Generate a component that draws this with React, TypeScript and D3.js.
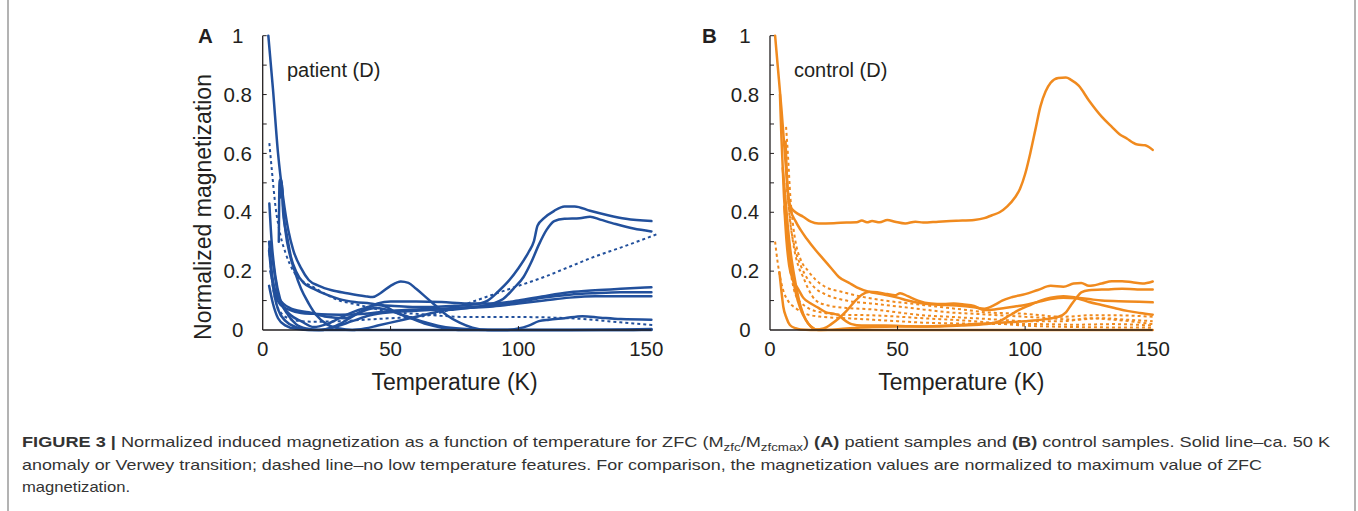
import React from 'react';
import * as d3 from 'd3';

type Pt = [number, number];

// ---------- Panel A: patient (D) ----------
const patientA1: Pt[] = [[2.2,1.0],[4,0.82],[6,0.6],[8,0.45],[10,0.34],[12,0.27],[15,0.21],[18,0.17],[22,0.15],[27,0.135],[33,0.125],[40,0.115],[43,0.112],[46,0.125],[50,0.15],[54,0.165],[57,0.16],[60,0.14],[64,0.11],[68,0.08],[72,0.05],[77,0.025],[82,0.008],[88,0.0],[100,0.0],[120,0.0],[140,0.0],[152,0.002]];
const patientA2: Pt[] = [[6.3,0.3],[6.6,0.51],[7.3,0.51],[8,0.4],[9.5,0.32],[11,0.25],[13,0.2],[16,0.16],[20,0.14],[25,0.12],[30,0.105],[36,0.095],[42,0.09],[46,0.085],[50,0.082],[55,0.08],[60,0.078],[65,0.078],[70,0.08],[75,0.082],[80,0.085],[85,0.09],[88,0.1],[92,0.13],[96,0.165],[100,0.21],[104,0.265],[106,0.3],[107.5,0.355],[110,0.38],[114,0.405],[118,0.42],[122,0.42],[128,0.405],[135,0.39],[142,0.378],[152,0.37]];
const patientA3: Pt[] = [[6.8,0.45],[7.5,0.5],[8,0.42],[9,0.33],[10.5,0.26],[12.5,0.2],[15,0.14],[18,0.09],[21,0.05],[25,0.02],[30,0.005],[35,0.0],[40,0.005],[45,0.015],[50,0.025],[55,0.035],[60,0.045],[65,0.055],[70,0.065],[75,0.07],[80,0.075],[85,0.08],[90,0.09],[94,0.105],[98,0.14],[102,0.18],[105,0.23],[108,0.29],[111,0.34],[114,0.37],[118,0.378],[124,0.38],[128,0.385],[132,0.375],[138,0.36],[145,0.345],[152,0.335]];
const patientA4: Pt[] = [[2.6,0.43],[3.5,0.3],[5,0.18],[7,0.1],[10,0.05],[13,0.02],[17,0.005],[22,0.0],[26,0.005],[30,0.02],[35,0.045],[40,0.07],[45,0.09],[50,0.097],[60,0.097],[70,0.095],[80,0.09],[90,0.09],[100,0.1],[110,0.115],[120,0.128],[130,0.135],[140,0.14],[152,0.145]];
const patientA5: Pt[] = [[2.5,0.3],[3.5,0.2],[5,0.12],[7,0.085],[10,0.07],[15,0.058],[20,0.055],[30,0.052],[40,0.055],[50,0.065],[60,0.07],[70,0.072],[80,0.077],[90,0.085],[100,0.095],[110,0.11],[120,0.12],[130,0.125],[140,0.128],[152,0.128]];
const patientA6: Pt[] = [[2.5,0.27],[4,0.15],[6,0.07],[9,0.03],[13,0.01],[18,0.0],[23,0.0],[28,0.01],[35,0.03],[42,0.05],[50,0.06],[60,0.065],[70,0.07],[80,0.075],[90,0.08],[100,0.09],[110,0.1],[120,0.11],[130,0.115],[140,0.115],[152,0.115]];
const patientA7: Pt[] = [[2.5,0.15],[4,0.09],[6,0.04],[9,0.015],[13,0.004],[20,0.0],[40,0.0],[60,0.0],[80,0.0],[95,0.0],[100,0.005],[104,0.015],[108,0.03],[112,0.035],[118,0.04],[125,0.047],[132,0.042],[140,0.037],[152,0.035]];
const patientA8: Pt[] = [[3,0.2],[5,0.13],[8,0.09],[12,0.07],[18,0.06],[25,0.045],[32,0.04],[38,0.06],[44,0.075],[48,0.07],[55,0.05],[62,0.03],[70,0.012],[78,0.004],[90,0.0],[110,0.0],[130,0.0],[152,0.0]];
const patientA9: Pt[] = [[3,0.3],[4.5,0.2],[6,0.12],[8,0.08],[11,0.05],[15,0.03],[20,0.01],[25,0.02],[30,0.04],[35,0.06],[40,0.075],[45,0.085],[48,0.08],[52,0.06],[58,0.04],[64,0.02],[70,0.008],[78,0.0],[120,0.0],[152,0.003]];
const patientD1: Pt[] = [[2.6,0.635],[3.5,0.55],[5,0.42],[7,0.32],[9,0.26],[12,0.2],[15,0.17],[20,0.145],[25,0.12],[30,0.1],[35,0.09],[40,0.08],[46,0.068],[52,0.06],[60,0.055],[70,0.048],[80,0.044],[100,0.044],[120,0.04],[135,0.03],[145,0.022],[153,0.017]];
const patientD2: Pt[] = [[2.5,0.28],[3.5,0.18],[5,0.1],[7,0.06],[10,0.04],[15,0.03],[20,0.028],[30,0.03],[40,0.035],[50,0.04],[60,0.045],[65,0.05],[70,0.06],[75,0.075],[80,0.09],[90,0.12],[100,0.15],[110,0.18],[120,0.215],[130,0.25],[140,0.28],[154,0.325]];

const patientSolid: Pt[][] = [patientA1, patientA2, patientA3, patientA4, patientA5, patientA6, patientA7, patientA8, patientA9];
const patientDotted: Pt[][] = [patientD1, patientD2];

// ---------- Panel B: control (D) ----------
const controlB1: Pt[] = [[2,1.0],[3,0.9],[4.5,0.75],[6,0.58],[7,0.47],[8,0.42],[10,0.4],[13,0.385],[16,0.368],[19,0.362],[25,0.363],[30,0.365],[34,0.366],[36,0.372],[38,0.366],[40,0.37],[43,0.366],[46,0.374],[49,0.368],[53,0.362],[57,0.368],[60,0.365],[66,0.368],[73,0.371],[80,0.374],[84,0.38],[87,0.39],[90,0.4],[93,0.42],[96,0.45],[98,0.48],[100,0.53],[102,0.6],[104,0.68],[106,0.76],[108,0.81],[110,0.84],[113,0.856],[116,0.858],[118,0.85],[121,0.83],[125,0.78],[130,0.725],[134,0.69],[137,0.665],[140,0.65],[142,0.638],[144,0.63],[147,0.628],[150,0.612]];
const controlB2: Pt[] = [[6.1,0.64],[6.5,0.55],[7,0.47],[8,0.41],[10,0.37],[12,0.34],[14.4,0.31],[18,0.27],[21,0.24],[24,0.21],[27,0.18],[31,0.16],[34,0.145],[40,0.127],[45,0.12],[50,0.11],[54,0.1],[60,0.09],[66,0.086],[73,0.083],[80,0.077],[84,0.072],[88,0.085],[91,0.1],[95,0.112],[100,0.122],[105,0.136],[110,0.15],[115,0.147],[119,0.158],[122,0.16],[125,0.15],[130,0.158],[134,0.166],[138,0.166],[142,0.162],[146,0.158],[150,0.165]];
const controlB3: Pt[] = [[3.9,0.8],[4.5,0.65],[5.5,0.45],[7,0.3],[8.5,0.2],[10,0.13],[12,0.07],[14,0.035],[16,0.012],[18,0.002],[21,0.005],[24,0.02],[27,0.04],[30,0.065],[33,0.095],[36,0.12],[39,0.13],[42,0.128],[46,0.122],[49,0.118],[51,0.125],[54,0.115],[58,0.1],[63,0.09],[68,0.088],[72,0.09],[76,0.087],[80,0.082],[84,0.068],[88,0.07],[92,0.075],[96,0.08],[100,0.085],[105,0.095],[110,0.105],[115,0.11],[120,0.108],[125,0.095],[130,0.085],[135,0.075],[140,0.065],[145,0.058],[150,0.052]];
const controlB4: Pt[] = [[5.6,0.42],[6.5,0.3],[7.5,0.22],[9,0.17],[11,0.14],[13,0.11],[16,0.09],[19,0.075],[22,0.06],[25,0.055],[27,0.05],[29,0.035],[32,0.02],[36,0.015],[45,0.015],[55,0.013],[65,0.012],[75,0.015],[85,0.02],[90,0.03],[94,0.05],[98,0.07],[102,0.085],[106,0.1],[110,0.11],[115,0.115],[120,0.11],[125,0.105],[130,0.1],[140,0.097],[150,0.094]];
const controlB5: Pt[] = [[3.7,0.196],[4.5,0.13],[5.2,0.08],[6.5,0.04],[7.8,0.017],[10,0.006],[12,0.002],[20,0.0],[30,0.005],[40,0.01],[50,0.012],[60,0.012],[70,0.015],[80,0.02],[90,0.025],[100,0.03],[108,0.037],[113,0.045],[116,0.06],[118,0.085],[120,0.108],[122,0.128],[125,0.135],[132,0.138],[138,0.14],[144,0.138],[150,0.138]];
const controlB6: Pt[] = [[5,0.55],[6,0.45],[7,0.35],[8,0.27],[10,0.16],[12,0.08],[14,0.035],[16,0.012],[19,0.0],[30,0.0],[50,0.0],[70,0.0],[90,0.0],[110,0.0],[130,0.0],[150,0.0]];
const controlD1: Pt[] = [[6.3,0.69],[7,0.6],[8,0.45],[9,0.36],[10,0.3],[12,0.24],[15,0.2],[18,0.17],[22,0.145],[28,0.13],[35,0.115],[45,0.1],[55,0.09],[65,0.08],[75,0.07],[85,0.06],[100,0.055],[115,0.045],[125,0.05],[135,0.05],[150,0.045]];
const controlD2: Pt[] = [[6.5,0.5],[8,0.36],[10,0.27],[12,0.22],[15,0.17],[18,0.14],[22,0.12],[30,0.1],[40,0.09],[50,0.08],[60,0.07],[70,0.06],[80,0.055],[90,0.05],[100,0.045],[110,0.04],[120,0.035],[130,0.04],[140,0.035],[150,0.03]];
const controlD3: Pt[] = [[7,0.45],[9,0.3],[11,0.22],[13,0.18],[15,0.14],[18,0.1],[22,0.085],[30,0.075],[40,0.07],[50,0.06],[60,0.05],[70,0.045],[80,0.04],[90,0.035],[100,0.03],[115,0.03],[125,0.04],[135,0.035],[150,0.02]];
const controlD4: Pt[] = [[2,0.3],[3,0.23],[5,0.14],[7,0.1],[10,0.075],[14,0.055],[20,0.045],[30,0.04],[40,0.035],[50,0.03],[60,0.025],[75,0.022],[90,0.02],[105,0.02],[120,0.018],[135,0.02],[150,0.015]];
const controlD5: Pt[] = [[8,0.2],[10,0.12],[14,0.08],[20,0.06],[28,0.052],[40,0.05],[60,0.04],[80,0.03],[100,0.015],[120,0.01],[150,0.008]];

const controlSolid: Pt[][] = [controlB1, controlB2, controlB3, controlB4, controlB5, controlB6];
const controlDotted: Pt[][] = [controlD1, controlD2, controlD3, controlD4, controlD5];

// ---------- ticks ----------
const xTickLabels = [0, 50, 100, 150];
const xTickMarks = [50, 100];
const yTickLabels = [0, 0.2, 0.4, 0.6, 0.8, 1];
const yTickMarks = [0.1, 0.2, 0.3, 0.4, 0.5, 0.6, 0.7, 0.8, 0.9, 1];

const FONT = "'Liberation Sans', Arial, Helvetica, sans-serif";
const TEXT = '#231f20';

type PanelProps = {
  left: number; right: number; axisEndK: number;
  solid: Pt[][]; dotted: Pt[][]; color: string;
  note: string; noteX: number; letter: string; letterX: number; yTitle: boolean;
};

function Panel(p: PanelProps) {
  const x = d3.scaleLinear().domain([0, 150]).range([p.left, p.right]);
  const y = d3.scaleLinear().domain([0, 1]).range([330, 35.7]);
  const line = d3.line<Pt>().x(d => x(d[0])).y(d => y(d[1])).curve(d3.curveMonotoneX);
  return (
    <g>
      {p.dotted.map((s, i) => (
        <path key={'d' + i} d={line(s) || ''} fill="none" stroke={p.color} strokeWidth={2} strokeDasharray="3,3" />
      ))}
      {p.solid.map((s, i) => (
        <path key={'s' + i} d={line(s) || ''} fill="none" stroke={p.color} strokeWidth={2.5} strokeLinejoin="round" strokeLinecap="round" />
      ))}
      <line x1={x(0)} x2={x(0)} y1={y(0)} y2={y(1)} stroke="#231f20" strokeWidth={1.3} />
      <line x1={x(0)} x2={x(p.axisEndK)} y1={y(0)} y2={y(0)} stroke="#231f20" strokeWidth={1.3} />
      {yTickMarks.map(v => (
        <line key={'yt' + v} x1={x(0)} x2={x(0) + 4} y1={y(v)} y2={y(v)} stroke="#231f20" strokeWidth={1} />
      ))}
      {xTickMarks.map(v => (
        <line key={'xt' + v} x1={x(v)} x2={x(v)} y1={y(0)} y2={y(0) - 4} stroke="#231f20" strokeWidth={1} />
      ))}
      {yTickLabels.map(v => (
        <text key={'yl' + v} x={x(0) - 25} y={y(v)} dy="0.35em" textAnchor="middle" fontSize={20.5} fontFamily={FONT} fill={TEXT}>{String(v)}</text>
      ))}
      {xTickLabels.map(v => (
        <text key={'xl' + v} x={x(v)} y={355.5} textAnchor="middle" fontSize={20.5} fontFamily={FONT} fill={TEXT}>{v}</text>
      ))}
      <text x={(p.left + p.right) / 2} y={390} textAnchor="middle" fontSize={23} fontFamily={FONT} fill={TEXT}>Temperature (K)</text>
      {p.yTitle && (
        <text transform="translate(203,207) rotate(-90)" textAnchor="middle" dy="0.35em" fontSize={23} fontFamily={FONT} fill={TEXT}>Normalized magnetization</text>
      )}
      <text x={p.noteX} y={77} fontSize={20} fontFamily={FONT} fill={TEXT}>{p.note}</text>
      <text x={p.letterX} y={42.5} fontSize={20.5} fontWeight="bold" fontFamily={FONT} fill={TEXT}>{p.letter}</text>
    </g>
  );
}

export default function App() {
  return (
    <svg width={1358} height={511} viewBox="0 0 1358 511" style={{ position: 'absolute', left: 0, top: 0, background: '#fff' }}>
      <rect x={0} y={0} width={1358} height={511} fill="#fff" />
      <Panel left={262.7} right={646.3} axisEndK={152} solid={patientSolid} dotted={patientDotted} color="#22509c"
        note="patient (D)" noteX={287} letter="A" letterX={198} yTitle={true} />
      <Panel left={770} right={1152.7} axisEndK={150} solid={controlSolid} dotted={controlDotted} color="#f08a1e"
        note="control (D)" noteX={794} letter="B" letterX={702} yTitle={false} />
      <line x1={8} x2={8} y1={0} y2={511} stroke="#9a9a9a" strokeWidth={1.5} />
      <line x1={1355} x2={1355} y1={0} y2={511} stroke="#9a9a9a" strokeWidth={1.5} />
      <g fontFamily={FONT} fill="#333" fontSize={15}>
        <text x={22} y={447} textLength={1308} lengthAdjust="spacingAndGlyphs">
          <tspan fontWeight="bold">FIGURE 3 | </tspan>
          <tspan>Normalized induced magnetization as a function of temperature for ZFC (M</tspan>
          <tspan fontSize={11} dy={4}>zfc</tspan>
          <tspan dy={-4}>/M</tspan>
          <tspan fontSize={11} dy={4}>zfcmax</tspan>
          <tspan dy={-4}>) </tspan>
          <tspan fontWeight="bold">(A)</tspan>
          <tspan> patient samples and </tspan>
          <tspan fontWeight="bold">(B)</tspan>
          <tspan> control samples. Solid line–ca. 50 K</tspan>
        </text>
        <text x={22} y={470} textLength={1240} lengthAdjust="spacingAndGlyphs">anomaly or Verwey transition; dashed line–no low temperature features. For comparison, the magnetization values are normalized to maximum value of ZFC</text>
        <text x={22} y={492} textLength={108} lengthAdjust="spacingAndGlyphs">magnetization.</text>
      </g>
    </svg>
  );
}
